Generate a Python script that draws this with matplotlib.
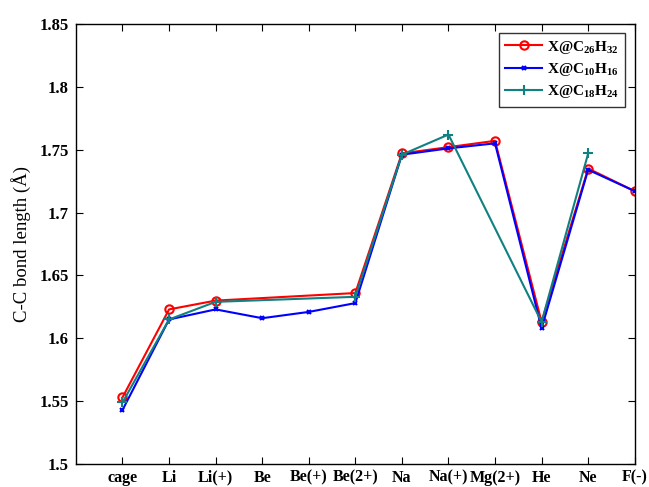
import numpy as np
import matplotlib.pyplot as plt

plt.rcParams['font.family'] = ['Liberation Serif', 'DejaVu Serif']
plt.rcParams['mathtext.fontset'] = 'custom'
plt.rcParams['mathtext.rm'] = 'Liberation Serif:bold'
plt.rcParams['mathtext.it'] = 'Liberation Serif:bold'

# Categories on the x axis
labels = ["cage", "Li", "Li(+)", "Be", "Be(+)", "Be(2+)", "Na", "Na(+)",
          "Mg(2+)", "He", "Ne", "F(-)"]

# X@C26H32 (no Be, Be(+))
c26_cats = ["cage", "Li", "Li(+)", "Be(2+)", "Na", "Na(+)", "Mg(2+)", "He", "Ne", "F(-)"]
c26_vals = [1.553, 1.623, 1.630, 1.636, 1.747, 1.752, 1.757, 1.613, 1.735, 1.717]

# X@C10H16 (all)
c10_cats = labels
c10_vals = [1.543, 1.615, 1.623, 1.616, 1.621, 1.628, 1.746, 1.751, 1.755, 1.608, 1.734, 1.717]

# X@C18H24 (no Be, Be(+), Mg(2+), F(-))
c18_cats = ["cage", "Li", "Li(+)", "Be(2+)", "Na", "Na(+)", "He", "Ne"]
c18_vals = [1.549, 1.615, 1.629, 1.633, 1.746, 1.762, 1.613, 1.747]

pos = {name: i + 1 for i, name in enumerate(labels)}

fig = plt.figure(figsize=(6.49, 4.87), dpi=100)
ax = fig.add_axes([0.117, 0.047, 0.861, 0.904])

ax.plot([pos[c] for c in c26_cats], c26_vals, color="red", lw=1.5,
        marker="o", ms=6, mfc="none", mew=1.5, label=r"X@C$_{26}$H$_{32}$")
ax.plot([pos[c] for c in c10_cats], c10_vals, color="blue", lw=1.5,
        marker="x", ms=3.5, mew=1.5, label=r"X@C$_{10}$H$_{16}$")
ax.plot([pos[c] for c in c18_cats], c18_vals, color="#108080", lw=1.5,
        marker="+", ms=7, mew=1.5, label=r"X@C$_{18}$H$_{24}$")

ax.set_xlim(0, 12)
ax.set_ylim(1.5, 1.85)
ax.set_xticks(range(1, 13))
ax.set_xticklabels(labels, fontweight="bold", fontsize=11.5)
ax.set_yticks(np.arange(1.5, 1.851, 0.05))
ax.set_yticklabels(["1.5", "1.55", "1.6", "1.65", "1.7", "1.75", "1.8", "1.85"],
                   fontweight="bold", fontsize=12)
ax.tick_params(direction="in", top=True, right=True, length=5, width=0.8)
ax.tick_params(axis="x", pad=4)
ax.tick_params(axis="y", pad=5)
ax.set_ylabel("C-C bond length (Å)", fontsize=13.5, labelpad=6)
for s in ax.spines.values():
    s.set_linewidth(1.0)

leg = ax.legend(loc="upper right", fancybox=False, edgecolor="black",
                prop={"weight": "bold", "size": 11}, borderpad=0.4,
                handlelength=2.4, handletextpad=0.35, labelspacing=0.35,
                borderaxespad=0, bbox_to_anchor=(0.983, 0.98))
leg.get_frame().set_linewidth(1.0)

plt.savefig("out.png", dpi=100)
